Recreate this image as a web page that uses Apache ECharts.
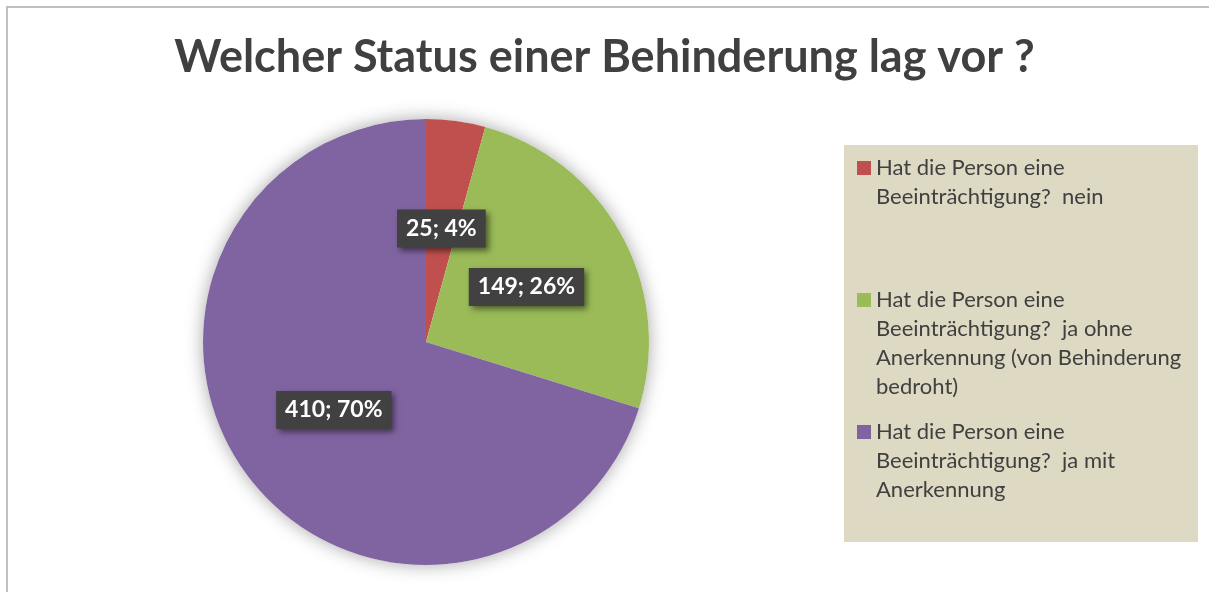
<!DOCTYPE html>
<html>
<head>
<meta charset="utf-8">
<script src="https://cdn.jsdelivr.net/npm/echarts@6/dist/echarts.min.js"></script>
<style>
html, body { margin: 0; padding: 0; background: #fff; }
#chart { width: 1209px; height: 592px; }
</style>
</head>
<body>
<div id="chart"></div>
<script>
// Daten
const categories = [
    'Hat die Person eine Beeinträchtigung?  nein',
    'Hat die Person eine Beeinträchtigung?  ja ohne Anerkennung (von Behinderung bedroht)',
    'Hat die Person eine Beeinträchtigung?  ja mit Anerkennung'
]
const values = [25, 149, 410]
const colors = ['#C0504D', '#9BBB59', '#8064A2']
// Legendentext mit Zeilenumbrüchen
const legendLines = [
    ['Hat die Person eine', 'Beeinträchtigung?  nein'],
    ['Hat die Person eine', 'Beeinträchtigung?  ja ohne', 'Anerkennung (von Behinderung', 'bedroht)'],
    ['Hat die Person eine', 'Beeinträchtigung?  ja mit', 'Anerkennung']
]
const legendIconY = [168, 300, 432] // Mitte des Legendensymbols

const FONT = 'Lato, "Open Sans", sans-serif'
const LH = 29 // Zeilenhöhe Legende

const chart = echarts.init(document.getElementById('chart'))

// eine Legende pro Eintrag; Leerzeilen davor, damit die erste Zeile neben dem Symbol steht
const legends = categories.map(function (name, i) {
    const n = legendLines[i].length
    return {
        data: [name],
        left: 857,
        top: legendIconY[i] - (2 * n - 1) * LH / 2,
        padding: 0,
        icon: 'rect',
        itemWidth: 14,
        itemHeight: 14,
        itemGap: 0,
        selectedMode: false,
        formatter: function () {
            return '\n'.repeat(n - 1) + legendLines[i].join('\n')
        },
        textStyle: {
            fontFamily: FONT,
            fontSize: 22,
            color: '#404040',
            lineHeight: LH
        }
    }
})

chart.setOption({
    animation: false,
    color: colors,
    title: {
        text: 'Welcher Status einer Behinderung lag vor ?',
        left: 'center',
        top: 30,
        textStyle: {
            fontFamily: FONT,
            fontSize: 45,
            fontWeight: 'bold',
            color: '#404040'
        }
    },
    graphic: [
        {// Rahmen
            type: 'rect',
            z: -10,
            shape: { x: 7, y: 7, width: 1260, height: 650 },
            style: { fill: '#fff', stroke: '#c0c0c0', lineWidth: 2 }
        },
        {// Legendenhintergrund
            type: 'rect',
            z: -5,
            shape: { x: 844, y: 145, width: 354, height: 397 },
            style: { fill: '#DDD9C3' }
        }
    ],
    legend: legends,
    series: [
        {// Schattenscheibe hinter dem Kreis
            type: 'pie',
            silent: true,
            z: 1,
            center: [426, 342],
            radius: 223,
            label: { show: false },
            itemStyle: {
                color: '#fff',
                shadowBlur: 18,
                shadowColor: 'rgba(0,0,0,0.35)'
            },
            data: [{ name: '', value: values.reduce(function (a, b) { return a + b }, 0) }]
        },
        {
            type: 'pie',
            z: 2,
            center: [426, 342],
            radius: 223,
            startAngle: 90,
            clockwise: true,
            percentPrecision: 0,
            labelLine: { show: false },
            label: {
                show: true,
                position: 'inside',
                formatter: '{c}; {d}%',
                fontFamily: FONT,
                fontSize: 23,
                fontWeight: 'bold',
                color: '#fff',
                backgroundColor: '#414141',
                padding: [8, 9, 7, 9],
                shadowColor: 'rgba(0,0,0,0.5)',
                shadowBlur: 6,
                shadowOffsetX: 3,
                shadowOffsetY: 3
            },
            emphasis: { disabled: true },
            data: categories.map(function (name, i) {
                return { name: name, value: values[i] }
            })
        }
    ]
})
</script>
</body>
</html>
